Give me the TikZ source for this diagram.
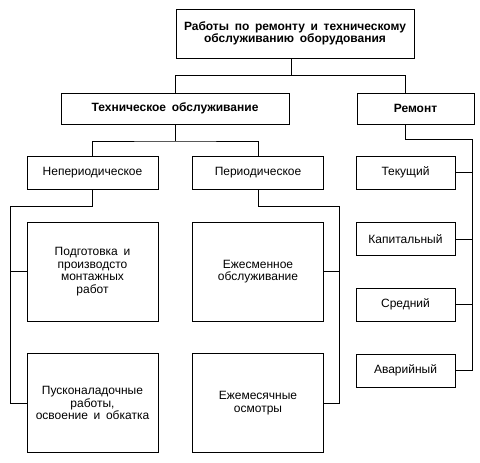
\documentclass[tikz,border=0pt]{standalone}
\usepackage{fontspec}
\setmainfont[WordSpace=1.7]{Liberation Sans}
\begin{document}
\begin{tikzpicture}[x=1pt,y=-1pt, line width=0.9pt,
  box/.style={draw, align=center, inner sep=0pt, font=\fontsize{12}{12.5}\selectfont},
  bbox/.style={box, font=\fontsize{12}{12.5}\selectfont\bfseries},
  small/.style={box, minimum width=131pt, minimum height=33pt},
  big/.style={box, minimum width=131pt, minimum height=99pt},
  rbox/.style={box, minimum width=99pt, minimum height=33pt}]
\useasboundingbox (0,0) rectangle (480,463);
% nodes
\node[bbox, minimum width=238pt, minimum height=49pt] (top) at (295,33.5) {Работы по ремонту и техническому\\обслуживанию оборудования};
\node[bbox, minimum width=228pt, minimum height=31pt] (tech) at (175,108.5) {Техническое обслуживание};
\node[bbox, minimum width=117pt, minimum height=31pt] (remont) at (415.5,108.5) {Ремонт};
\node[small] (nonp) at (92.5,172.5) {Непериодическое};
\node[small] (per) at (258,172.5) {Периодическое};
\node[big] (podg) at (92.5,271.5) {Подготовка и\\производсто\\монтажных\\работ};
\node[big] (pusk) at (92.5,403) {Пусконаладочные\\работы,\\освоение и обкатка};
\node[big] (esm) at (258,271.5) {Ежесменное\\обслуживание};
\node[big] (mon) at (258,403) {Ежемесячные\\осмотры};
\node[rbox] (tek) at (405.5,172.5) {Текущий};
\node[rbox] (kap) at (405.5,239) {Капитальный};
\node[rbox] (sred) at (405.5,304.5) {Средний};
\node[rbox] (avar) at (405.5,370.5) {Аварийный};
% helper coordinates
\coordinate (j1) at (291,75);
\coordinate (rx) at (405,0);
\coordinate (j2) at (175,141);
\coordinate (ylev) at (0,206);
\coordinate (lr) at (10,0);
\coordinate (rr) at (339,0);
\coordinate (rail) at (472,0);
\coordinate (yr) at (0,139);
% connectors
\draw (top.south -| j1) -- (j1);
\draw (tech.north) |- (j1 -| rx) -- (remont.north -| rx);
\draw (tech.south) -- (j2);
\draw (nonp.north) |- (j2) -| (per.north);
\draw (nonp.south) |- (lr |- ylev) |- (pusk.west);
\draw (podg.west) -- (podg.west -| lr);
\draw (per.south) |- (rr |- ylev) |- (mon.east);
\draw (esm.east) -- (esm.east -| rr);
\draw (remont.south -| rx) |- (rail |- yr) |- (avar.east);
\draw (tek.east) -- (tek.east -| rail);
\draw (kap.east) -- (kap.east -| rail);
\draw (sred.east) -- (sred.east -| rail);
\end{tikzpicture}
\end{document}
